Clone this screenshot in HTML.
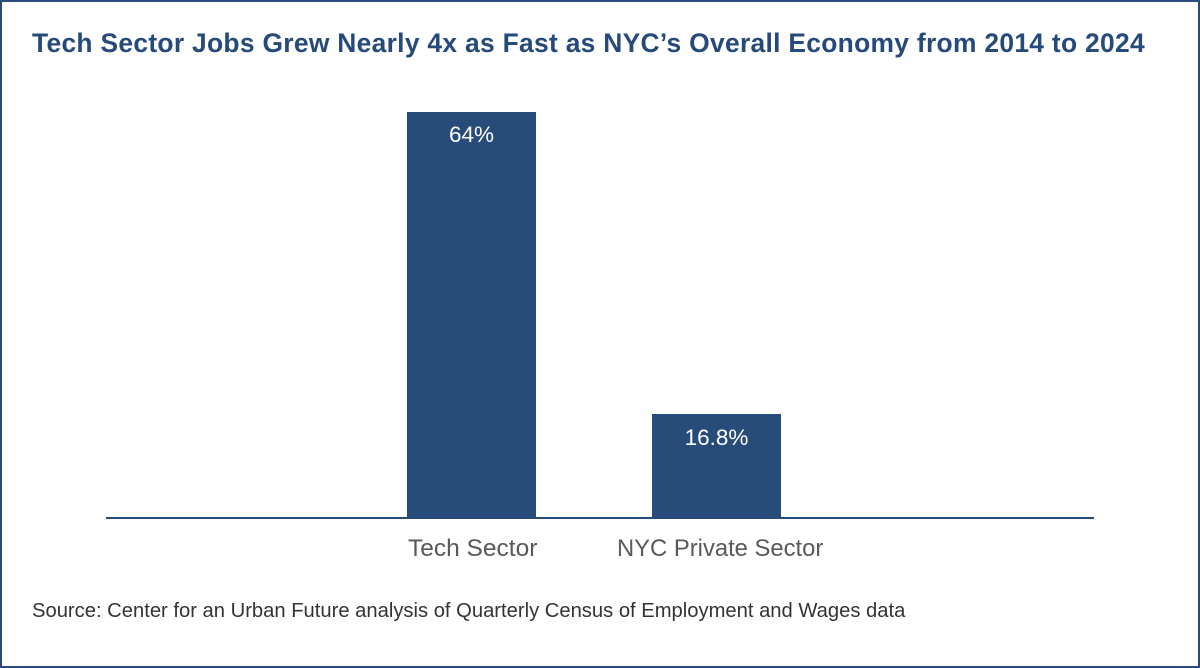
<!DOCTYPE html>
<html><head><style>
body{margin:0;width:1200px;height:668px;background:#fff;overflow:hidden;font-family:"Liberation Sans",sans-serif}
.f{position:absolute;left:0;top:0;width:1196px;height:664px;border:2px solid #2a4a7a}
.t{position:absolute;left:32px;top:28px;font-family:"Liberation Sans",sans-serif;font-weight:bold;font-size:26.4px;color:#264a7a;white-space:nowrap;letter-spacing:0.3px}
.b{position:absolute;background:#284c7a;color:#fff;font-size:22.5px;text-align:center}
.l{position:absolute;font-size:23px;color:#595959;white-space:nowrap}
</style></head><body>
<div class="f"></div>
<div class="t">Tech Sector Jobs Grew Nearly 4x as Fast as NYC’s Overall Economy from 2014 to 2024</div>
<div class="b" style="left:407px;top:112px;width:129px;height:406px;line-height:46px">64%</div>
<div class="b" style="left:652px;top:414px;width:129px;height:104px;line-height:48px">16.8%</div>
<div style="position:absolute;left:106px;top:517px;width:988px;height:2px;background:#284c7a"></div>
<div class="l" style="left:408px;top:535px;font-size:24.5px">Tech Sector</div>
<div class="l" style="left:617px;top:535px;font-size:23.8px">NYC Private Sector</div>
<div class="l" style="left:32px;top:600px;font-size:20.2px;color:#333">Source: Center for an Urban Future analysis of Quarterly Census of Employment and Wages data</div>
</body></html>
